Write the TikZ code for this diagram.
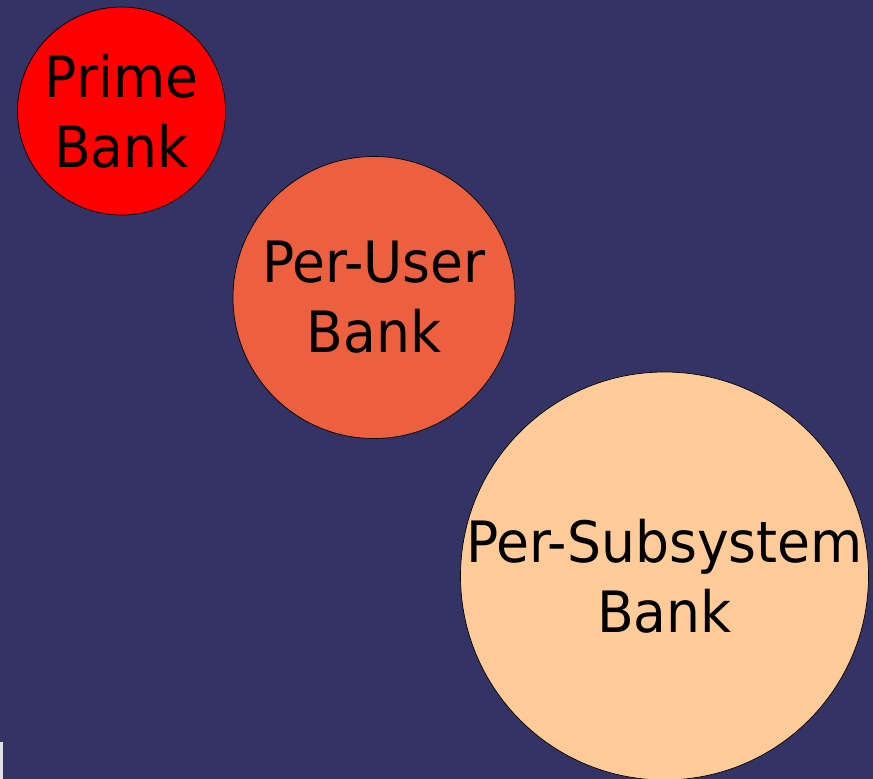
\documentclass[tikz,border=0pt]{standalone}
\usepackage{fontspec}
\setmainfont{DejaVu Sans}[FakeStretch=0.94]
\definecolor{bgnavy}{RGB}{51,51,102}
\definecolor{userorange}{RGB}{236,96,64}
\definecolor{subpeach}{RGB}{255,204,153}
\definecolor{markgray}{RGB}{225,225,230}

\begin{document}
\begin{tikzpicture}[x=1pt,y=-1pt,
  bank/.style={circle,draw=black,line width=0.7pt,inner sep=-30pt,align=center,
    text=black,font=\fontsize{57}{70}\selectfont}]
\fill [bgnavy] (0,0) rectangle (873,779);
\useasboundingbox (0,0) rectangle (873,779);
\fill [markgray] (0,742) rectangle (3,779);
\node [bank,fill=red,minimum size=208pt] (prime) at (121.5,111) {Prime\\Bank};
\node [bank,fill=userorange,minimum size=282pt] (user) at (374,297.5) {Per-User\\Bank};
\node [bank,fill=subpeach,minimum size=408pt] (subsys) at (664.5,576) {Per-Subsystem\\Bank};
\end{tikzpicture}
\end{document}
